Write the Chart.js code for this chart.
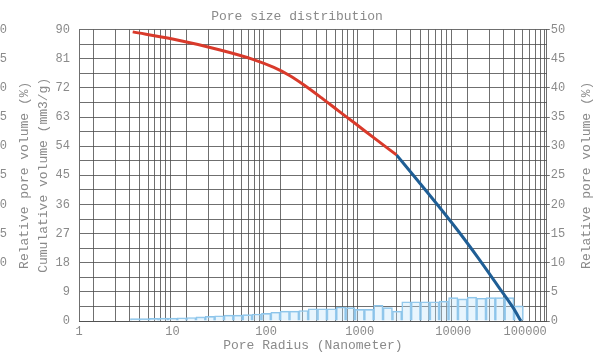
<!DOCTYPE html>
<html>
<head>
<meta charset="utf-8">
<script src="https://cdn.jsdelivr.net/npm/chart.js@4.4.1/dist/chart.umd.min.js"></script>
<style>
  html, body { margin: 0; padding: 0; background: #fff; overflow: hidden; }
</style>
</head>
<body>
<canvas id="chart" width="594" height="353"></canvas>
<script>
// cumulative volume (mm3/g) - red part then blue part of the curve
const redRadius = [3.75, 10, 31.5, 71, 121, 176, 254, 392, 594, 905, 1400, 2475];
const redVolume = [89.3, 87.1, 83.8, 80.9, 78.3, 75.9, 72.9, 68.9, 64.9, 60.9, 56.7, 51.3];
const blueRadius = [2475, 4250, 6920, 11300, 18450, 30100, 43450, 52900];
const blueVolume = [51.3, 43.1, 35.6, 27.8, 19.5, 10.8, 4.2, 0];

// relative pore volume (%) histogram
const binRadius = [3.98, 5.01, 6.31, 7.94, 10, 12.6, 15.8, 20, 25.1, 31.6, 39.8, 50.1, 63.1, 79.4,
  100, 126, 158, 200, 251, 316, 398, 501, 631, 794, 1000, 1260, 1580, 2000, 2510, 3160, 3980,
  5010, 6310, 7940, 10000, 12600, 15800, 20000, 25100, 31600, 39800, 50100];
const relVolume = [0.4, 0.4, 0.45, 0.5, 0.5, 0.55, 0.6, 0.7, 0.8, 0.9, 1.0, 1.0, 1.1, 1.2,
  1.3, 1.5, 1.7, 1.7, 1.8, 2.1, 2.1, 2.1, 2.4, 2.3, 2.0, 2.0, 2.7, 2.3, 1.7, 3.3, 3.3,
  3.3, 3.3, 3.4, 4.0, 3.8, 4.1, 3.9, 4.0, 4.0, 4.0, 2.6];

// tick labels
const xTicks = [1, 10, 100, 1000, 10000, 100000];
const volTicks = [0, 9, 18, 27, 36, 45, 54, 63, 72, 81, 90];
const relTicks = [0, 5, 10, 15, 20, 25, 30, 35, 40, 45, 50];
const neighbourTicks = [50, 45, 40, 35, 30, 25, 20, 15, 10]; // cut-off axis of the panel to the left

const FONT = 'Liberation Mono';
const TXT = '#8a8a8a';
const GRID = 'rgba(75,75,75,0.8)';

const toXY = (xs, ys) => xs.map((x, i) => ({ x: x, y: ys[i] }));

// draws the text that Chart.js can't place the way the picture has it
const sideText = {
  id: 'sideText',
  afterDraw(chart) {
    const ctx = chart.ctx;
    const area = chart.chartArea;
    const y = chart.scales.y;
    ctx.save();
    ctx.fillStyle = TXT;
    ctx.font = '12px ' + FONT;
    ctx.textAlign = 'right';
    ctx.textBaseline = 'middle';
    neighbourTicks.forEach((t, i) => {
      ctx.fillText(String(t), 7, y.getPixelForValue(volTicks[volTicks.length - 1 - i]));
    });
    ctx.font = '13px ' + FONT;
    ctx.textAlign = 'center';
    // left neighbour title
    ctx.save();
    ctx.translate(25, (area.top + area.bottom) / 2);
    ctx.rotate(-Math.PI / 2);
    ctx.fillText('Relative pore volume (%)', 0, 0);
    ctx.restore();
    // right axis title, reads bottom to top
    ctx.save();
    ctx.translate(587, (area.top + area.bottom) / 2);
    ctx.rotate(-Math.PI / 2);
    ctx.fillText('Relative pore volume (%)', 0, 0);
    ctx.restore();
    ctx.restore();
  }
};

new Chart(document.getElementById('chart'), {
  type: 'line',
  data: {
    datasets: [
      {
        label: 'Cumulative',
        data: toXY(redRadius, redVolume),
        yAxisID: 'y',
        borderColor: '#d93a2b',
        borderWidth: 3,
        pointRadius: 0,
        cubicInterpolationMode: 'monotone',
        order: 1
      },
      {
        label: 'Cumulative (large pores)',
        data: toXY(blueRadius, blueVolume),
        yAxisID: 'y',
        borderColor: '#1f5e95',
        borderWidth: 3,
        pointRadius: 0,
        cubicInterpolationMode: 'monotone',
        order: 1
      },
      {
        type: 'bar',
        label: 'Relative',
        data: toXY(binRadius, relVolume),
        yAxisID: 'y2',
        backgroundColor: 'rgba(190,225,248,0.35)',
        borderColor: '#8cc4ea',
        borderWidth: 1,
        barThickness: 'flex',
        barPercentage: 1,
        categoryPercentage: 1,
        order: 2
      }
    ]
  },
  options: {
    responsive: false,
    animation: false,
    events: [],
    layout: { padding: 0 },
    plugins: {
      legend: { display: false },
      tooltip: { enabled: false },
      title: {
        display: true,
        text: 'Pore size distribution',
        color: TXT,
        font: { family: FONT, size: 13, weight: 'normal' },
        padding: { top: 9, bottom: 5 }
      }
    },
    scales: {
      x: {
        type: 'logarithmic',
        position: 'bottom',
        min: 1,
        max: 100000,
        afterBuildTicks: (scale) => {
          const ticks = [];
          for (let d = 1; d < 100000; d *= 10) {
            for (let m = 1; m < 10; m++) ticks.push({ value: m * d });
          }
          ticks.push({ value: 100000 });
          scale.ticks = ticks;
        },
        afterFit: (scale) => { scale.height = 32; },
        ticks: {
          autoSkip: false,
          maxRotation: 0,
          padding: 4,
          color: TXT,
          font: { family: FONT, size: 12 },
          callback: (v) => {
            if (!xTicks.includes(v)) return '';
            return v === 100000 ? '100000      ' : String(v);
          }
        },
        grid: { color: GRID, lineWidth: 1, drawTicks: false },
        border: { color: GRID },
        title: {
          display: true,
          text: 'Pore Radius (Nanometer)',
          color: TXT,
          font: { family: FONT, size: 13 },
          padding: { top: 0, bottom: 0 }
        }
      },
      y: {
        position: 'left',
        min: 0,
        max: 90,
        afterBuildTicks: (scale) => {
          const ticks = [];
          for (let v = 0; v <= 90; v += 4.5) ticks.push({ value: v });
          scale.ticks = ticks;
        },
        afterFit: (scale) => { scale.width = 79; },
        ticks: {
          autoSkip: false,
          padding: 9,
          color: TXT,
          font: { family: FONT, size: 12 },
          callback: (v) => volTicks.includes(v) ? String(v) : ''
        },
        grid: { color: GRID, lineWidth: 1, drawTicks: false },
        border: { color: GRID },
        title: {
          display: true,
          text: 'Cumulative volume (mm3/g)',
          color: TXT,
          font: { family: FONT, size: 13 },
          padding: { top: 36, bottom: 0 }
        }
      },
      y2: {
        position: 'right',
        min: 0,
        max: 50,
        afterBuildTicks: (scale) => {
          scale.ticks = relTicks.map(v => ({ value: v }));
        },
        afterFit: (scale) => { scale.width = 45; },
        ticks: {
          autoSkip: false,
          padding: 1,
          color: TXT,
          font: { family: FONT, size: 12 }
        },
        grid: { drawOnChartArea: false, color: GRID, tickLength: 3 },
        border: { color: GRID }
      }
    }
  },
  plugins: [sideText]
});
</script>
</body>
</html>
